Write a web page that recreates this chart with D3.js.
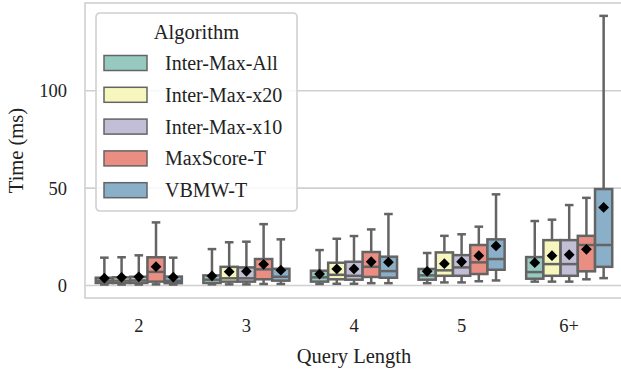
<!DOCTYPE html>
<html lang="en">
<head>
  <meta charset="UTF-8" />
  <title>Query time by length</title>
  <style>
    html, body {
      margin: 0;
      padding: 0;
      background: #fff;
    }
    svg text {
      font-family: "Liberation Serif", "DejaVu Serif", serif;
      fill: #222;
    }
  </style>
</head>
<body>
<script src="https://d3js.org/d3.v7.min.js"></script>
<script>
  const categories = ["2", "3", "4", "5", "6+"];
  const algorithms = ["Inter-Max-All", "Inter-Max-x20", "Inter-Max-x10", "MaxScore-T", "VBMW-T"];
  const colors = ["#96cac1", "#f6f6bd", "#c1bed6", "#ea8e83", "#8aafc9"];
  const yTicks = [0, 50, 100];

  // one row per algorithm, one value per query length
  const whiskerLow = [
    [0.5, 0.6, 0.8, 1.2, 2.0],
    [0.5, 0.6, 0.9, 1.6, 2.0],
    [0.5, 0.6, 0.9, 1.6, 2.0],
    [0.6, 0.8, 1.2, 2.2, 3.2],
    [0.5, 0.8, 1.2, 2.6, 3.8]
  ];
  const q1 = [
    [1.3, 1.3, 2.0, 3.0, 3.5],
    [1.3, 2.0, 3.2, 5.0, 5.0],
    [1.3, 2.0, 3.0, 5.0, 5.0],
    [2.0, 3.2, 4.4, 5.9, 7.3],
    [1.2, 2.5, 4.0, 8.1, 9.6]
  ];
  const median = [
    [2.5, 3.0, 4.2, 5.2, 6.9],
    [2.5, 3.7, 5.5, 7.8, 11.0],
    [2.6, 3.7, 5.0, 9.3, 11.0],
    [7.0, 8.3, 9.6, 11.9, 20.8],
    [2.4, 4.5, 7.4, 13.6, 20.8]
  ];
  const q3 = [
    [4.0, 5.2, 7.6, 8.5, 14.6],
    [4.2, 9.6, 11.7, 17.0, 23.3],
    [4.5, 9.3, 12.2, 15.6, 23.3],
    [14.5, 13.6, 17.2, 20.8, 25.5],
    [4.6, 8.6, 14.8, 23.7, 49.5]
  ];
  const whiskerHigh = [
    [14.3, 18.7, 18.2, 16.7, 33.1],
    [14.5, 22.2, 24.0, 25.5, 33.8],
    [15.5, 22.5, 25.4, 26.3, 41.3],
    [32.4, 31.5, 28.8, 30.2, 45.0],
    [14.3, 23.7, 36.7, 46.8, 138.4]
  ];
  const means = [
    [3.8, 4.9, 5.9, 7.3, 11.7],
    [4.2, 7.1, 8.5, 11.2, 15.3],
    [4.5, 7.3, 8.5, 12.2, 15.8],
    [9.7, 10.9, 12.2, 15.3, 18.6],
    [4.3, 7.9, 12.0, 20.3, 40.1]
  ];

  const width = 621;
  const height = 370;
  const marginLeft = 85;
  const marginTop = 3;
  const plotBottom = 298;
  const step = 107.6;

  const lineColor = "#646464";
  const frameColor = "#d0d0d0";

  const svg = d3.select("body").append("svg")
    .attr("width", width)
    .attr("height", height);

  const x = d3.scaleBand()
    .domain(categories)
    .range([marginLeft, marginLeft + step * categories.length])
    .padding(0);

  const inner = d3.scaleBand()
    .domain(algorithms)
    .range([x.bandwidth() * 0.1, x.bandwidth() * 0.9])
    .padding(0);

  const y = d3.scaleLinear()
    .domain([-6.4, 145])
    .range([plotBottom, marginTop]);

  // grid
  svg.append("g")
    .selectAll("line")
    .data(yTicks)
    .join("line")
      .attr("x1", marginLeft)
      .attr("x2", width)
      .attr("y1", d => y(d))
      .attr("y2", d => y(d))
      .attr("stroke", frameColor)
      .attr("stroke-width", 1.6);

  // frame
  svg.append("rect")
    .attr("x", marginLeft)
    .attr("y", marginTop)
    .attr("width", step * categories.length)
    .attr("height", plotBottom - marginTop)
    .attr("fill", "none")
    .attr("stroke", frameColor)
    .attr("stroke-width", 1.6);

  // boxes
  const stats = [];
  algorithms.forEach((a, i) => {
    categories.forEach((c, j) => {
      stats.push({
        algo: a, cat: c, color: colors[i],
        lo: whiskerLow[i][j], q1: q1[i][j], med: median[i][j],
        q3: q3[i][j], hi: whiskerHigh[i][j], mean: means[i][j]
      });
    });
  });

  const bw = inner.bandwidth();
  const gBox = svg.append("g")
    .attr("stroke", lineColor)
    .attr("stroke-width", 2.5);

  const box = gBox.selectAll("g")
    .data(stats)
    .join("g")
      .attr("transform", d => `translate(${x(d.cat) + inner(d.algo)},0)`);

  // whiskers
  box.append("line")
    .attr("x1", bw / 2).attr("x2", bw / 2)
    .attr("y1", d => y(d.q3)).attr("y2", d => y(d.hi));
  box.append("line")
    .attr("x1", bw / 2).attr("x2", bw / 2)
    .attr("y1", d => y(d.q1)).attr("y2", d => y(d.lo));
  // caps
  box.append("line")
    .attr("x1", bw * 0.25).attr("x2", bw * 0.75)
    .attr("y1", d => y(d.hi)).attr("y2", d => y(d.hi));
  box.append("line")
    .attr("x1", bw * 0.25).attr("x2", bw * 0.75)
    .attr("y1", d => y(d.lo)).attr("y2", d => y(d.lo));

  box.append("rect")
    .attr("x", 0)
    .attr("width", bw)
    .attr("y", d => y(d.q3))
    .attr("height", d => y(d.q1) - y(d.q3))
    .attr("fill", d => d.color);

  box.append("line")
    .attr("x1", 0).attr("x2", bw)
    .attr("y1", d => y(d.med)).attr("y2", d => y(d.med));

  // means
  box.append("path")
    .attr("d", d3.symbol(d3.symbolSquare, 58))
    .attr("transform", d => `translate(${bw / 2},${y(d.mean)}) rotate(45)`)
    .attr("fill", "#000")
    .attr("stroke", "none");

  // y tick labels
  svg.append("g")
    .selectAll("text")
    .data(yTicks)
    .join("text")
      .attr("x", 67)
      .attr("y", d => y(d))
      .attr("dy", "0.35em")
      .attr("text-anchor", "end")
      .attr("font-size", 18.5)
      .text(d => d);

  // x tick labels
  svg.append("g")
    .selectAll("text")
    .data(categories)
    .join("text")
      .attr("x", d => x(d) + x.bandwidth() / 2)
      .attr("y", 326)
      .attr("dy", "0.35em")
      .attr("text-anchor", "middle")
      .attr("font-size", 18.5)
      .text(d => d);

  svg.append("text")
    .attr("x", 354)
    .attr("y", 356)
    .attr("dy", "0.35em")
    .attr("text-anchor", "middle")
    .attr("font-size", 20.5)
    .text("Query Length");

  svg.append("text")
    .attr("transform", `translate(16,${(marginTop + plotBottom) / 2}) rotate(-90)`)
    .attr("dy", "0.35em")
    .attr("text-anchor", "middle")
    .attr("font-size", 20.5)
    .text("Time (ms)");

  // legend
  const legend = svg.append("g").attr("transform", "translate(96,13)");
  legend.append("rect")
    .attr("width", 201)
    .attr("height", 198)
    .attr("rx", 4)
    .attr("fill", "#fff")
    .attr("fill-opacity", 0.85)
    .attr("stroke", frameColor)
    .attr("stroke-width", 1.6);

  legend.append("text")
    .attr("x", 100.5)
    .attr("y", 19)
    .attr("dy", "0.35em")
    .attr("text-anchor", "middle")
    .attr("font-size", 20.5)
    .text("Algorithm");

  const item = legend.selectAll("g.item")
    .data(algorithms)
    .join("g")
      .attr("class", "item")
      .attr("transform", (d, i) => `translate(8,${50 + i * 31.8})`);

  item.append("rect")
    .attr("x", 0)
    .attr("y", -7.5)
    .attr("width", 43)
    .attr("height", 15)
    .attr("fill", (d, i) => colors[i])
    .attr("stroke", lineColor)
    .attr("stroke-width", 1.5);

  item.append("text")
    .attr("x", 61)
    .attr("dy", "0.35em")
    .attr("font-size", 20)
    .text(d => d);
</script>
</body>
</html>
